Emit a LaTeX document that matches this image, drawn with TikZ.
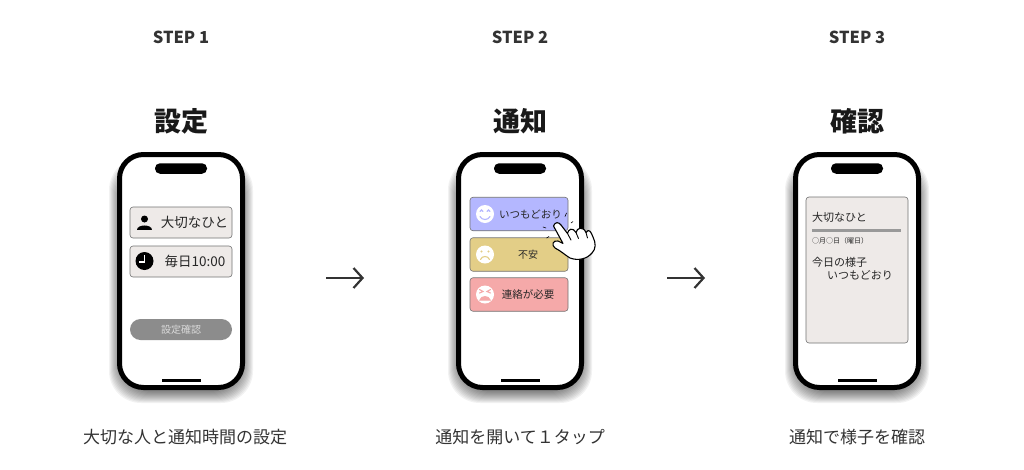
\documentclass[tikz,border=0pt]{standalone}
\usepackage{fontspec}
\setmainfont{Noto Sans CJK JP}
\usetikzlibrary{arrows.meta}
\definecolor{inktext}{HTML}{333333}
\definecolor{cardgray}{HTML}{EEEAE8}
\definecolor{cardblue}{HTML}{B4B7FF}
\definecolor{cardyellow}{HTML}{E3CE87}
\definecolor{cardred}{HTML}{F5A9A9}
\tikzset{
  steplabel/.style = {font=\bfseries\fontsize{16.5}{16.5}\selectfont, text=inktext},
  title/.style = {font=\bfseries\fontsize{27}{27}\selectfont, text=black!90},
  caption/.style = {font=\fontsize{17}{17}\selectfont, text=inktext},
  phone/.style = {draw=black, line width=5pt, fill=white, rounded corners=24pt, minimum width=123pt, minimum height=233pt},
  phoneshadow/.style = {fill=black, opacity=0.05, rounded corners=32pt},
  notch/.style = {fill=black, rounded corners=5pt, minimum width=52pt, minimum height=10.5pt, inner sep=0pt},
  homebar/.style = {fill=black, minimum width=39pt, minimum height=3pt, inner sep=0pt},
  card/.style = {draw=black!55, line width=0.6pt, rounded corners=3pt, inner sep=0pt},
  settingcard/.style = {card, fill=cardgray, minimum width=102pt, minimum height=31pt},
  moodcard/.style = {card, minimum width=98pt, minimum height=33.5pt},
  pill/.style = {fill=black!45, rounded corners=10.5pt, minimum width=102pt, minimum height=21pt, inner sep=0pt},
  face/.style = {circle, fill=white, minimum size=18pt, inner sep=0pt},
  faceline/.style = {line width=1.1pt, line cap=round},
  label/.style = {font=\fontsize{11}{11}\selectfont, text=black!85, inner sep=0pt},
  labelbig/.style = {font=\fontsize{13.5}{13.5}\selectfont, text=black!85, inner sep=0pt},
  flowarrow/.style = {-{Straight Barb[length=9pt,width=20pt,line width=2.2pt]}, line width=2.2pt, draw=inktext},
  tapmark/.style = {line width=0.6pt, line cap=round},
}
\newcommand{\phonebody}[2]{
  \foreach \s in {-3,...,8}
    \fill[phoneshadow] ({#2-64-\s},{166-\s}) rectangle ({#2+64+\s},{395+\s});
  \node[phone] (#1) at (#2,271) {};
  \node[notch] (#1notch) at (#2,168.5) {};
  \node[homebar] (#1bar) at (#2,380.5) {};
}
\begin{document}
\begin{tikzpicture}[x=1pt,y=-1pt]
  \useasboundingbox (0,0) rectangle (1024,469);
  % headings
  \node[steplabel] (stepa) at (181,37) {STEP 1};
  \node[steplabel] (stepb) at (520,37) {STEP 2};
  \node[steplabel] (stepc) at (857,37) {STEP 3};
  \node[title] (titlea) at (181,121) {設定};
  \node[title] (titleb) at (520,121) {通知};
  \node[title] (titlec) at (857,121) {確認};
  \node[caption] (capa) at (185,437) {大切な人と通知時間の設定};
  \node[caption] (capb) at (520,437) {通知を開いて１タップ};
  \node[caption] (capc) at (857,437) {通知で様子を確認};
  % phones
  \phonebody{phonea}{181}
  \phonebody{phoneb}{520}
  \phonebody{phonec}{857}
  % step 1
  \node[settingcard] (person) at (181,222.5) {};
  \node[settingcard] (clock) at (181,261.5) {};
  \node[labelbig] (persontext) at (194.5,222.5) {大切なひと};
  \node[labelbig] (clocktext) at (195,261.5) {毎日10:00};
  \node[circle, fill=black, minimum size=7pt, inner sep=0pt] (personhead) at (144.5,219) {};
  \fill[black] (137,230) .. controls (137,223.5) and (152,223.5) .. (152,230) -- cycle;
  \node[circle, fill=black, minimum size=18pt, inner sep=0pt] (clockface) at (144.5,261) {};
  \draw[white, line width=1.2pt] (144.5,255) -- (144.5,262) -- (139,262);
  \node[pill] (confirm) at (181,329.5) {};
  \node[font=\fontsize{10}{10}\selectfont, text=white!85!black, inner sep=0pt] (confirmtext) at (181,329.5) {設定確認};
  % step 2
  \node[moodcard, fill=cardblue] (moodgood) at (519,214) {};
  \node[moodcard, fill=cardyellow] (moodsoso) at (519,254.5) {};
  \node[moodcard, fill=cardred] (moodbad) at (519,294.5) {};
  \node[label, font=\fontsize{10.5}{10.5}\selectfont] (moodgoodtext) at (530.5,214) {いつもどおり};
  \node[label, font=\fontsize{10}{10}\selectfont] (moodsosotext) at (528,254.5) {不安};
  \node[label, font=\fontsize{10.5}{10.5}\selectfont] (moodbadtext) at (528,294.5) {連絡が必要};
  \node[face] (facegood) at (485,214) {};
  \node[face] (facesoso) at (485,254.5) {};
  \node[face] (facebad) at (485,294.5) {};
  \draw[faceline, cardblue] (480,211.5) arc (180:360:1.5) (487,211.5) arc (180:360:1.5);
  \draw[faceline, cardblue] (480,216.5) .. controls (482,220.5) and (488,220.5) .. (490,216.5);
  \fill[cardyellow] (481.5,251.5) circle (1.2) (488.5,251.5) circle (1.2);
  \draw[faceline, cardyellow] (480.5,259.5) .. controls (482,255.5) and (488,255.5) .. (489.5,259.5);
  \draw[faceline, cardred] (479.5,289.5) -- (483,291.5) -- (479.5,293) (490.5,289.5) -- (487,291.5) -- (490.5,293);
  \draw[faceline, cardred, fill=cardred] (480,300) .. controls (481,295.5) and (489,295.5) .. (490,300) -- cycle;
  % hand
  \draw[fill=white, line width=1.1pt, line join=round] (553.5,226) .. controls (555,221.5) and (559,222) .. (561,225)
    -- (567.5,233.5) .. controls (568,229) and (573,227) .. (576,232.5)
    .. controls (577,227.5) and (583,226) .. (586,232.5)
    .. controls (589,228) and (591,232) .. (593,237)
    .. controls (596,243) and (596,249) .. (592,253)
    .. controls (587,259) and (578,261) .. (570,258)
    .. controls (565,255) and (561,251) .. (555,248)
    .. controls (551,245) and (553,240) .. (558,241)
    -- (563,243.5)
    -- cycle;
  \draw[line width=0.9pt, line cap=round] (567.5,233.5) -- (571,240) (576,232.5) -- (578.5,238.5) (586,232.5) -- (587.5,238);
  \draw[tapmark] (565,216.5) -- (566.5,213) (571,223) -- (573,221.5) (543,227) -- (546,228) (546.5,238) -- (549,236.5);
  % step 3
  \node[card, fill=cardgray, minimum width=102pt, minimum height=146pt] (report) at (857,270) {};
  \node[label, anchor=west] (reportname) at (812,217) {大切なひと};
  \coordinate (rulestart) at (812,230.5);
  \coordinate (ruleend) at (901,230.5);
  \draw[line width=2.4pt, draw=black!40] (rulestart) -- (ruleend);
  \node[label, anchor=west, font=\fontsize{7}{7}\selectfont] (reportdate) at (812,241) {○月○日（曜日）};
  \node[label, anchor=west] (reportmood) at (812,262) {今日の様子};
  \node[label, anchor=west] (reportvalue) at (827,275) {いつもどおり};
  % arrows
  \coordinate (arrowastart) at (326,278);
  \coordinate (arrowaend) at (364,278);
  \coordinate (arrowbstart) at (667,278);
  \coordinate (arrowbend) at (705,278);
  \draw[flowarrow] (arrowastart) -- (arrowaend);
  \draw[flowarrow] (arrowbstart) -- (arrowbend);
\end{tikzpicture}
\end{document}
